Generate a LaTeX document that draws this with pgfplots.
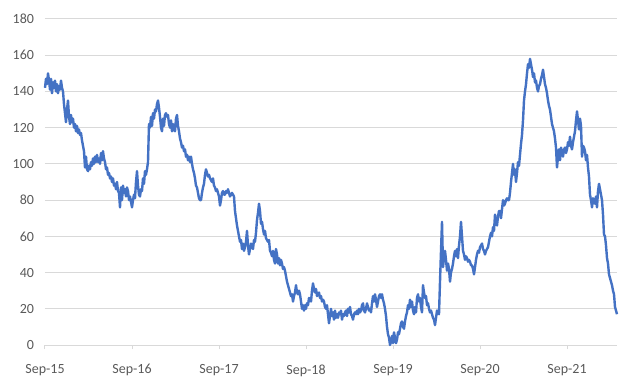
\documentclass[border=0pt]{standalone}
\usepackage{fontspec}
\setmainfont{Carlito}
\usepackage{pgfplots}
\pgfplotsset{compat=1.18}
\definecolor{serie}{HTML}{4472C4}
\definecolor{gridc}{HTML}{D9D9D9}
\definecolor{txt}{HTML}{595959}
\begin{document}
\begin{tikzpicture}
\useasboundingbox (-45bp,-36bp) rectangle (585bp,345bp);
\begin{axis}[
 at={(0,0)}, anchor=south west,
 scale only axis, width=572bp, height=326bp,
 xmin=0, xmax=572, ymin=0, ymax=180,
 ytick={0,20,...,180},
 xtick={0,87,174,261,348,435,522},
 xticklabels={Sep-15,Sep-16,Sep-17,Sep-18,Sep-19,Sep-20,Sep-21},
 axis lines*=left,
 x axis line style={draw=gridc, line width=1bp},
 y axis line style={draw=none},
 ymajorgrids, grid style={draw=gridc, line width=1bp},
 ytick style={draw=none},
 xtick style={draw=gridc, line width=1bp},
 tick align=outside, major tick length=4bp,
 ticklabel style={font=\fontsize{14bp}{16bp}\selectfont, text=txt},
 xticklabel style={yshift=-12bp},
 yticklabel style={xshift=-3.5bp},
 /pgf/number format/assume math mode=true,
 clip=false,
]
\addplot[serie, line width=2.4bp, line join=round] coordinates {
(0,142)(1,147)(2,144)(3,150)(4,146)(5,141)(6,147)(7,139)(8,145)(9,142)
(10,146)(11,140)(12,144)(13,139)(14,143)(15,141)(16,146)(17,142)(18,140)(19,133)
(20,128)(21,123)(22,130)(23,135)(24,126)(25,122)(26,127)(27,123)(28,125)(29,120)
(30,122)(31,118)(32,121)(33,117)(34,119)(35,116)(36,117)(37,113)(38,110)(39,107)
(40,98)(41,104)(42,97)(43,96)(44,99)(45,97)(46,101)(47,99)(48,103)(49,100)
(50,104)(51,101)(52,105)(53,101)(54,103)(55,100)(56,106)(57,102)(58,107)(59,103)
(60,101)(61,97)(62,98)(63,94)(64,95)(65,92)(66,93)(67,90)(68,92)(69,88)
(70,89)(71,86)(72,90)(73,85)(74,84)(75,76)(76,87)(77,80)(78,88)(79,84)
(80,86)(81,82)(82,87)(83,85)(84,80)(85,82)(86,79)(87,76)(88,80)(89,83)
(90,81)(91,90)(92,96)(93,88)(94,83)(95,82)(96,86)(97,85)(98,92)(99,89)
(100,96)(101,94)(102,97)(103,101)(104,122)(105,120)(106,126)(107,121)(108,128)(109,125)
(110,130)(111,129)(112,133)(113,135)(114,131)(115,126)(116,120)(117,118)(118,125)(119,121)
(120,127)(121,128)(122,126)(123,127)(124,122)(125,120)(126,124)(127,118)(128,122)(129,119)
(130,118)(131,125)(132,127)(133,121)(134,118)(135,114)(136,112)(137,109)(138,110)(139,107)
(140,108)(141,104)(142,105)(143,102)(144,104)(145,101)(146,104)(147,100)(148,97)(149,95)
(150,92)(151,88)(152,87)(153,84)(154,81)(155,80)(156,80)(157,84)(158,87)(159,89)
(160,94)(161,97)(162,95)(163,93)(164,94)(165,92)(166,91)(167,90)(168,92)(169,88)
(170,87)(171,85)(172,86)(173,84)(174,82)(175,77)(176,80)(177,84)(178,85)(179,83)
(180,83)(181,85)(182,84)(183,86)(184,84)(185,82)(186,83)(187,84)(188,83)(189,82)
(190,74)(191,70)(192,66)(193,63)(194,60)(195,57)(196,58)(197,53)(198,56)(199,52)
(200,54)(201,57)(202,63)(203,55)(204,50)(205,53)(206,56)(207,54)(208,53)(209,58)
(210,57)(211,62)(212,69)(213,73)(214,78)(215,74)(216,67)(217,68)(218,64)(219,61)
(220,63)(221,59)(222,58)(223,57)(224,58)(225,52)(226,51)(227,49)(228,52)(229,47)
(230,45)(231,53)(232,50)(233,45)(234,48)(235,44)(236,47)(237,45)(238,42)(239,43)
(240,41)(241,38)(242,35)(243,33)(244,31)(245,29)(246,27)(247,28)(248,24)(249,27)
(250,29)(251,33)(252,29)(253,28)(254,30)(255,28)(256,24)(257,20)(258,22)(259,19)
(260,22)(261,20)(262,23)(263,22)(264,26)(265,25)(266,24)(267,30)(268,34)(269,31)
(270,29)(271,31)(272,27)(273,28)(274,29)(275,26)(276,27)(277,24)(278,25)(279,24)
(280,21)(281,20)(282,22)(283,17)(284,12)(285,16)(286,20)(287,16)(288,18)(289,14)
(290,19)(291,15)(292,17)(293,15)(294,18)(295,17)(296,19)(297,14)(298,17)(299,16)
(300,18)(301,19)(302,16)(303,20)(304,18)(305,21)(306,17)(307,16)(308,14)(309,17)
(310,18)(311,17)(312,19)(313,17)(314,20)(315,18)(316,19)(317,22)(318,23)(319,19)
(320,18)(321,20)(322,23)(323,21)(324,19)(325,20)(326,18)(327,23)(328,27)(329,24)
(330,28)(331,25)(332,21)(333,24)(334,27)(335,28)(336,26)(337,28)(338,25)(339,23)
(340,20)(341,16)(342,10)(343,6)(344,4)(345,0)(346,2)(347,5)(348,1)(349,7)
(350,4)(351,1)(352,3)(353,7)(354,6)(355,9)(356,12)(357,13)(358,10)(359,9)
(360,13)(361,16)(362,18)(363,22)(364,20)(365,25)(366,21)(367,24)(368,19)(369,17)
(370,21)(371,18)(372,26)(373,28)(374,24)(375,26)(376,21)(377,18)(378,33)(379,29)
(380,26)(381,27)(382,22)(383,23)(384,20)(385,18)(386,19)(387,17)(388,15)(389,14)
(390,11)(391,15)(392,19)(393,18)(394,17)(395,35)(396,52)(397,68)(398,43)(399,48)
(400,52)(401,47)(402,41)(403,45)(404,42)(405,35)(406,40)(407,42)(408,45)(409,49)
(410,52)(411,49)(412,53)(413,48)(414,55)(415,60)(416,68)(417,60)(418,52)(419,50)
(420,47)(421,49)(422,48)(423,46)(424,47)(425,46)(426,44)(427,44)(428,42)(429,39)
(430,43)(431,47)(432,50)(433,52)(434,51)(435,54)(436,55)(437,56)(438,53)(439,52)
(440,50)(441,52)(442,53)(443,54)(444,57)(445,60)(446,62)(447,60)(448,65)(449,63)
(450,72)(451,68)(452,66)(453,71)(454,74)(455,74)(456,70)(457,75)(458,80)(459,77)
(460,78)(461,80)(462,81)(463,80)(464,80)(465,84)(466,90)(467,95)(468,100)(469,94)
(470,97)(471,90)(472,95)(473,101)(474,99)(475,105)(476,111)(477,116)(478,124)(479,135)
(480,140)(481,144)(482,150)(483,155)(484,153)(485,158)(486,155)(487,152)(488,148)(489,150)
(490,145)(491,146)(492,142)(493,140)(494,143)(495,144)(496,147)(497,149)(498,152)(499,148)
(500,144)(501,142)(502,139)(503,135)(504,132)(505,130)(506,126)(507,122)(508,120)(509,118)
(510,114)(511,109)(512,98)(513,104)(514,108)(515,102)(516,109)(517,106)(518,104)(519,108)
(520,109)(521,106)(522,108)(523,112)(524,110)(525,115)(526,110)(527,108)(528,112)(529,115)
(530,118)(531,124)(532,129)(533,124)(534,119)(535,125)(536,121)(537,104)(538,110)(539,109)
(540,107)(541,102)(542,105)(543,98)(544,93)(545,83)(546,80)(547,76)(548,81)(549,80)
(550,78)(551,82)(552,76)(553,85)(554,89)(555,86)(556,83)(557,80)(558,72)(559,61)
(560,60)(561,55)(562,48)(563,45)(564,39)(565,37)(566,35)(567,33)(568,30)(569,28)
(570,21)(571,19)(572,17)
};
\end{axis}
\end{tikzpicture}
\end{document}
